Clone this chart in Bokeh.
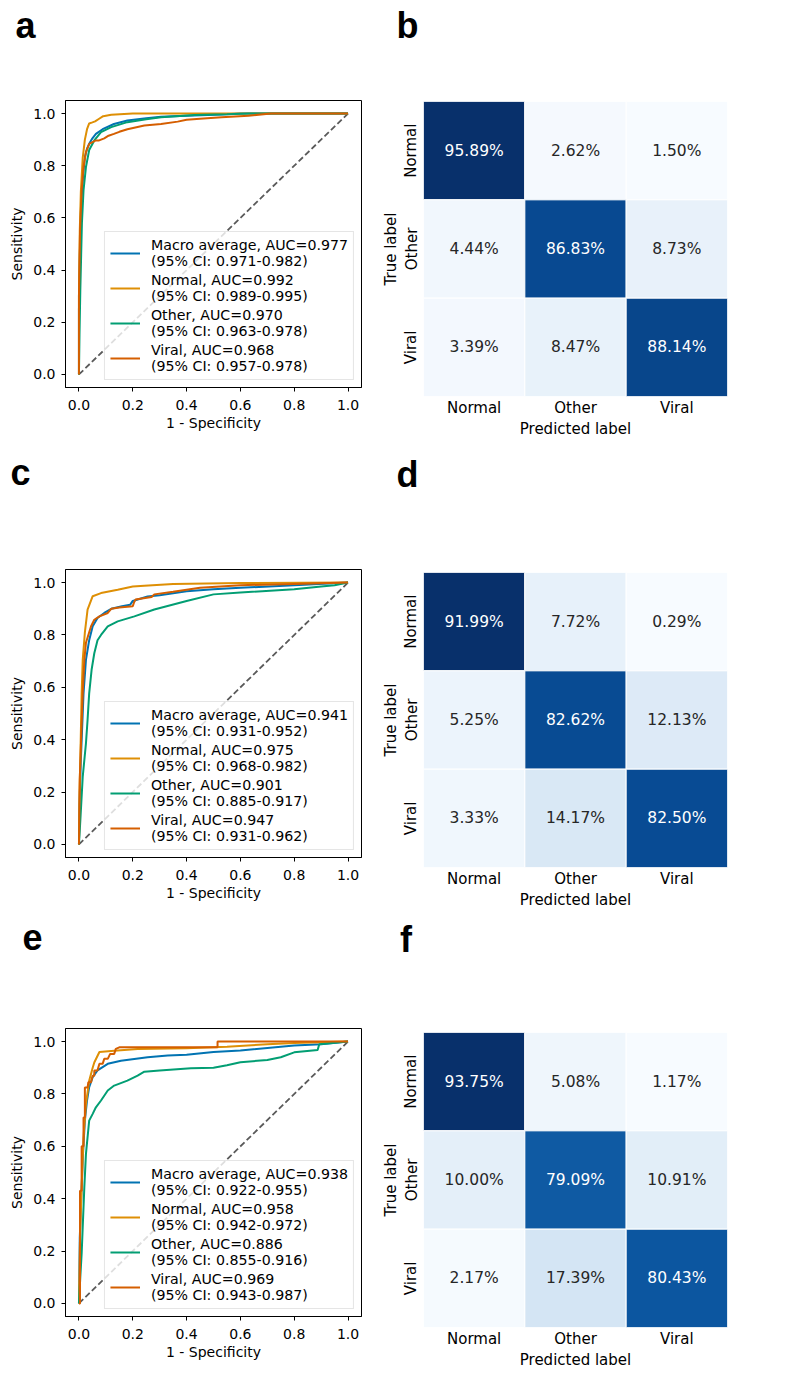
import numpy as np
from bokeh.plotting import figure
from bokeh.models import (Range1d, Legend, LegendItem, FactorRange, Div,
                          ColumnDataSource, FixedTicker, PrintfTickFormatter)
from bokeh.layouts import column, row
from bokeh.embed import file_html
from bokeh.resources import INLINE
from bokeh.core.properties import value

CLASSES = ["Normal", "Other", "Viral"]
SERIES = ["Macro average", "Normal", "Other", "Viral"]
COLORS = ["#0173b2", "#de8f05", "#029e73", "#d55e00"]
TICKS = [0.0, 0.2, 0.4, 0.6, 0.8, 1.0]

# ---------------- Panel a (ROC) ----------------
a_macro_fpr = [0, 0.0, 0.003, 0.008, 0.016, 0.022, 0.03, 0.038, 0.05, 0.063, 0.088, 0.13, 0.18, 0.25, 0.305, 0.4, 0.53, 0.6, 1.0]
a_macro_tpr = [0, 0.25, 0.45, 0.65, 0.77, 0.833, 0.865, 0.884, 0.905, 0.922, 0.94, 0.96, 0.973, 0.982, 0.988, 0.992, 0.996, 1.0, 1.0]
a_normal_fpr = [0, 0.0, 0.003, 0.007, 0.014, 0.022, 0.03, 0.038, 0.05, 0.06, 0.075, 0.09, 0.12, 0.2, 1.0]
a_normal_tpr = [0, 0.3, 0.55, 0.7, 0.83, 0.9, 0.94, 0.962, 0.966, 0.97, 0.98, 0.99, 0.995, 1.0, 1.0]
a_other_fpr = [0, 0.002, 0.005, 0.011, 0.017, 0.026, 0.038, 0.057, 0.082, 0.12, 0.18, 0.25, 0.305, 0.43, 0.55, 0.63, 1.0]
a_other_tpr = [0, 0.15, 0.32, 0.58, 0.706, 0.795, 0.86, 0.897, 0.929, 0.948, 0.967, 0.978, 0.986, 0.994, 0.997, 1.0, 1.0]
a_viral_fpr = [0, 0.0, 0.004, 0.01, 0.017, 0.026, 0.038, 0.063, 0.075, 0.094, 0.11, 0.13, 0.15, 0.18, 0.243, 0.305, 0.367, 0.4, 0.45, 0.53, 0.63, 0.714, 1.0]
a_viral_tpr = [0, 0.3, 0.55, 0.706, 0.795, 0.852, 0.884, 0.897, 0.897, 0.905, 0.915, 0.922, 0.93, 0.94, 0.954, 0.96, 0.969, 0.976, 0.98, 0.986, 0.992, 1.0, 1.0]
a_auc = [0.977, 0.992, 0.970, 0.968]
a_ci = ["0.971-0.982", "0.989-0.995", "0.963-0.978", "0.957-0.978"]

# ---------------- Panel c (ROC) ----------------
c_macro_fpr = [0, 0.002, 0.007, 0.017, 0.026, 0.038, 0.051, 0.069, 0.094, 0.12, 0.16, 0.19, 0.2, 0.255, 0.3, 0.4, 0.5, 0.6, 0.8, 1.0]
c_macro_tpr = [0, 0.15, 0.32, 0.577, 0.705, 0.78, 0.833, 0.865, 0.884, 0.9, 0.91, 0.915, 0.93, 0.947, 0.952, 0.967, 0.975, 0.98, 0.99, 1.0]
c_normal_fpr = [0, 0.002, 0.005, 0.01, 0.014, 0.022, 0.032, 0.051, 0.082, 0.144, 0.2, 0.243, 0.35, 0.6, 1.0]
c_normal_tpr = [0, 0.2, 0.32, 0.577, 0.705, 0.81, 0.897, 0.948, 0.96, 0.973, 0.985, 0.988, 0.995, 0.998, 1.0]
c_other_fpr = [0, 0.005, 0.014, 0.026, 0.032, 0.038, 0.047, 0.057, 0.069, 0.082, 0.107, 0.144, 0.206, 0.28, 0.4, 0.5, 0.6, 0.8, 0.9, 0.95, 1.0]
c_other_tpr = [0, 0.09, 0.258, 0.386, 0.475, 0.577, 0.667, 0.73, 0.78, 0.80, 0.833, 0.852, 0.871, 0.897, 0.93, 0.955, 0.962, 0.975, 0.985, 0.99, 1.0]
c_viral_fpr = [0, 0.003, 0.008, 0.014, 0.02, 0.026, 0.045, 0.057, 0.076, 0.107, 0.12, 0.15, 0.2, 0.205, 0.21, 0.27, 0.28, 0.35, 0.45, 0.6, 0.8, 1.0]
c_viral_tpr = [0, 0.25, 0.4, 0.577, 0.705, 0.77, 0.833, 0.858, 0.871, 0.884, 0.9, 0.905, 0.91, 0.925, 0.935, 0.945, 0.955, 0.965, 0.98, 0.99, 0.995, 1.0]
c_auc = [0.941, 0.975, 0.901, 0.947]
c_ci = ["0.931-0.952", "0.968-0.982", "0.885-0.917", "0.931-0.962"]

# ---------------- Panel e (ROC) ----------------
e_macro_fpr = [0, 0.003, 0.01, 0.015, 0.022, 0.03, 0.038, 0.051, 0.069, 0.107, 0.156, 0.255, 0.33, 0.4, 0.5, 0.6, 0.8, 0.9, 1.0]
e_macro_tpr = [0, 0.25, 0.444, 0.571, 0.698, 0.775, 0.826, 0.864, 0.89, 0.915, 0.927, 0.94, 0.947, 0.95, 0.96, 0.966, 0.985, 0.99, 1.0]
e_normal_fpr = [0, 0.004, 0.01, 0.017, 0.026, 0.038, 0.051, 0.057, 0.076, 0.131, 0.218, 0.4, 0.55, 0.7, 0.8, 1.0]
e_normal_tpr = [0, 0.25, 0.444, 0.635, 0.762, 0.85, 0.9, 0.92, 0.96, 0.965, 0.972, 0.975, 0.98, 0.99, 0.995, 1.0]
e_other_fpr = [0, 0.005, 0.01, 0.015, 0.02, 0.026, 0.038, 0.051, 0.063, 0.082, 0.107, 0.131, 0.18, 0.218, 0.243, 0.3, 0.416, 0.5, 0.55, 0.6, 0.7, 0.75, 0.8, 0.887, 0.893, 1.0]
e_other_tpr = [0, 0.1, 0.19, 0.317, 0.444, 0.571, 0.698, 0.724, 0.749, 0.775, 0.813, 0.832, 0.851, 0.87, 0.885, 0.89, 0.898, 0.90, 0.91, 0.921, 0.93, 0.94, 0.959, 0.968, 0.99, 1.0]
e_viral_fpr = [0, 0.004, 0.004, 0.01, 0.01, 0.017, 0.017, 0.022, 0.022, 0.032, 0.035, 0.045, 0.051, 0.057, 0.057, 0.069, 0.076, 0.088, 0.094, 0.107, 0.116, 0.131, 0.137, 0.15, 0.515, 0.515, 1.0]
e_viral_tpr = [0, 0.0, 0.43, 0.43, 0.6, 0.6, 0.71, 0.71, 0.825, 0.825, 0.845, 0.845, 0.87, 0.87, 0.89, 0.89, 0.915, 0.915, 0.934, 0.934, 0.953, 0.953, 0.972, 0.978, 0.978, 1.0, 1.0]
e_auc = [0.938, 0.958, 0.886, 0.969]
e_ci = ["0.922-0.955", "0.942-0.972", "0.855-0.916", "0.943-0.987"]

# ---------------- Confusion matrices (rows = true, cols = predicted, %) ----------------
b_cm = [[95.89, 2.62, 1.50], [4.44, 86.83, 8.73], [3.39, 8.47, 88.14]]
d_cm = [[91.99, 7.72, 0.29], [5.25, 82.62, 12.13], [3.33, 14.17, 82.50]]
f_cm = [[93.75, 5.08, 1.17], [10.00, 79.09, 10.91], [2.17, 17.39, 80.43]]

BLUES = ["#f7fbff", "#deebf7", "#c6dbef", "#9ecae1", "#6baed6",
         "#4292c6", "#2171b5", "#08519c", "#08306b"]


def _rgb(h):
    return np.array([int(h[i:i + 2], 16) for i in (1, 3, 5)], dtype=float)


def blues(t):
    t = min(max(t, 0.0), 1.0)
    pos = t * (len(BLUES) - 1)
    i = min(int(pos), len(BLUES) - 2)
    f = pos - i
    return _rgb(BLUES[i]) * (1 - f) + _rgb(BLUES[i + 1]) * f


def hexc(c):
    return "#%02x%02x%02x" % tuple(int(round(v)) for v in c)


def lum(c):
    rgb = c / 255.0
    rgb = np.where(rgb <= 0.03928, rgb / 12.92, ((rgb + 0.055) / 1.055) ** 2.4)
    return 0.2126 * rgb[0] + 0.7152 * rgb[1] + 0.0722 * rgb[2]


FONT = "DejaVu Sans"


def letter_div(letter, width, height, pad_left, pad_top):
    html = ('<div style="margin:0; padding-left:%.1fpx; padding-top:%.1fpx; '
            'font-family:\'Liberation Sans\', Arial, sans-serif; font-weight:bold; '
            'font-size:36px; line-height:36px; color:black;">%s</div>'
            % (pad_left, pad_top, letter))
    return Div(text=html, width=width, height=height, margin=(0, 0, 0, 0))


def roc_fig(curves, aucs, cis, top, frame_h, bottom):
    L, FW, R = 65, 296, 9
    p = figure(width=L + FW + R, height=top + frame_h + bottom,
               min_border_left=L, min_border_right=R,
               min_border_top=top, min_border_bottom=bottom,
               x_range=Range1d(-0.05, 1.05), y_range=Range1d(-0.05, 1.05),
               output_backend="svg", toolbar_location=None, tools="")
    p.grid.visible = False
    p.outline_line_color = "black"
    p.outline_line_width = 1
    p.line([0, 1], [0, 1], line_color="#5a5a5a", line_dash="6 3", line_width=1.8)
    items = []
    for (fpr, tpr), name, col, auc, ci in zip(curves, SERIES, COLORS, aucs, cis):
        r = p.line(fpr, tpr, line_color=col, line_width=2)
        items.append(LegendItem(label="%s, AUC=%.3f\n(95%% CI: %s)" % (name, auc, ci),
                                renderers=[r]))
    leg = Legend(items=items, location="bottom_right", margin=7, padding=5,
                 spacing=3, glyph_width=30, label_standoff=11,
                 label_text_font=FONT, label_text_font_size="14.2px",
                 label_text_line_height=1.15, label_text_color="black",
                 border_line_color="#cccccc", border_line_width=1,
                 background_fill_color="white", background_fill_alpha=0.8)
    p.add_layout(leg)
    for ax in (p.xaxis[0], p.yaxis[0]):
        ax.ticker = FixedTicker(ticks=TICKS)
        ax.formatter = PrintfTickFormatter(format="%.1f")
        ax.minor_tick_line_color = None
        ax.major_tick_out = 4
        ax.major_tick_in = 0
        ax.major_tick_line_color = "black"
        ax.axis_line_color = "black"
        ax.major_label_text_font = FONT
        ax.major_label_text_font_size = "14px"
        ax.major_label_text_color = "black"
        ax.axis_label_text_font = FONT
        ax.axis_label_text_font_size = "14px"
        ax.axis_label_text_font_style = "normal"
        ax.axis_label_text_color = "black"
    p.xaxis.axis_label = "1 - Specificity"
    p.yaxis.axis_label = "Sensitivity"
    p.xaxis.major_label_standoff = 8
    p.xaxis.axis_label_standoff = 2
    p.yaxis.major_label_standoff = 6
    p.yaxis.axis_label_standoff = 5
    return p


def cm_fig(cm, top, frame_h, bottom):
    left, frame_w, right = 53, 304, 65
    p = figure(width=left + frame_w + right, height=top + frame_h + bottom,
               min_border_left=left, min_border_right=right,
               min_border_top=top, min_border_bottom=bottom,
               x_range=FactorRange(*CLASSES), y_range=FactorRange(*CLASSES[::-1]),
               output_backend="svg", toolbar_location=None, tools="")
    p.grid.visible = False
    p.outline_line_color = None
    vals = np.array(cm, dtype=float)
    vmin, vmax = vals.min(), vals.max()
    xs, ys, fills, txt, tcol = [], [], [], [], []
    for i, tr in enumerate(CLASSES):
        for j, pr in enumerate(CLASSES):
            v = vals[i, j]
            c = blues((v - vmin) / (vmax - vmin))
            xs.append(pr)
            ys.append(tr)
            fills.append(hexc(c))
            txt.append("%.2f%%" % v)
            tcol.append("#262626" if lum(c) > 0.408 else "white")
    src = ColumnDataSource(dict(x=xs, y=ys, fill=fills, txt=txt, tcol=tcol))
    p.rect(x="x", y="y", width=1, height=1, source=src, fill_color="fill",
           line_color="white", line_width=1)
    p.text(x="x", y="y", text="txt", source=src, text_color="tcol",
           text_align="center", text_baseline="middle",
           text_font=value(FONT), text_font_size=value("15.5px"))
    for ax in (p.xaxis[0], p.yaxis[0]):
        ax.axis_line_color = None
        ax.major_tick_line_color = None
        ax.minor_tick_line_color = None
        ax.major_tick_out = 0
        ax.major_tick_in = 0
        ax.major_label_text_font = FONT
        ax.major_label_text_font_size = "15px"
        ax.major_label_text_color = "black"
        ax.axis_label_text_font = FONT
        ax.axis_label_text_font_size = "15px"
        ax.axis_label_text_font_style = "normal"
        ax.axis_label_text_color = "black"
    p.xaxis.axis_label = "Predicted label"
    p.yaxis.axis_label = "True label"
    p.yaxis.major_label_orientation = "vertical"
    p.xaxis.major_label_standoff = 2
    p.xaxis.axis_label_standoff = 0
    p.yaxis.major_label_standoff = 3
    p.yaxis.axis_label_standoff = 0
    return p


LW, RW = 370, 422

pa = roc_fig([(a_macro_fpr, a_macro_tpr), (a_normal_fpr, a_normal_tpr),
              (a_other_fpr, a_other_tpr), (a_viral_fpr, a_viral_tpr)],
             a_auc, a_ci, 50, 287, 61)
pc = roc_fig([(c_macro_fpr, c_macro_tpr), (c_normal_fpr, c_normal_tpr),
              (c_other_fpr, c_other_tpr), (c_viral_fpr, c_viral_tpr)],
             c_auc, c_ci, 69, 288, 58)
pe = roc_fig([(e_macro_fpr, e_macro_tpr), (e_normal_fpr, e_normal_tpr),
              (e_other_fpr, e_other_tpr), (e_viral_fpr, e_viral_tpr)],
             e_auc, e_ci, 66, 288, 56)

pb = cm_fig(b_cm, 51, 295, 52)
pd_ = cm_fig(d_cm, 72, 295, 48)
pf = cm_fig(f_cm, 70, 295, 45)

left_col = column(letter_div("a", LW, 50, 15.5, 7.5), pa,
                  letter_div("c", LW, 52, 10.5, 6.5), pc,
                  letter_div("e", LW, 47, 22.5, 4.5), pe)
right_col = column(letter_div("b", RW, 50, 26.5, 7.5), pb,
                   letter_div("d", RW, 52, 26.5, 8.5), pd_,
                   letter_div("f", RW, 47, 30.0, 6.5), pf)

layout = row(left_col, right_col)
open("out.html", "w").write(file_html(layout, INLINE))
